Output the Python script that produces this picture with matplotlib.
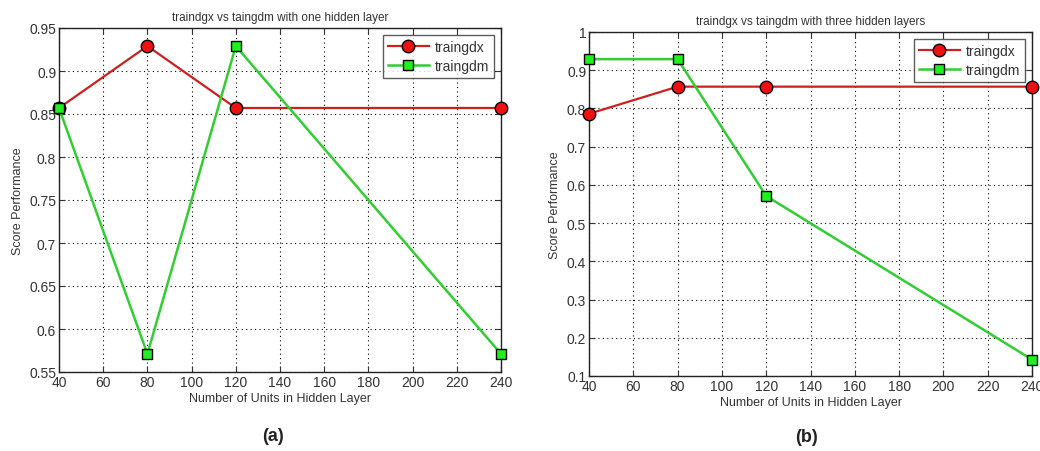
import matplotlib
matplotlib.use("Agg")
import matplotlib.pyplot as plt

# ---------- data ----------
units = [40, 80, 120, 240]

# (a) one hidden layer
one_traingdx = [0.857, 0.929, 0.857, 0.857]
one_traingdm = [0.857, 0.571, 0.929, 0.571]

# (b) three hidden layers
three_traingdx = [0.786, 0.857, 0.857, 0.857]
three_traingdm = [0.929, 0.929, 0.571, 0.143]

x_ticks = list(range(40, 241, 20))
a_yticks = [0.55, 0.6, 0.65, 0.7, 0.75, 0.8, 0.85, 0.9, 0.95]
a_ylabels = ["0.55", "0.6", "0.65", "0.7", "0.75", "0.8", "0.85", "0.9", "0.95"]
b_yticks = [0.1, 0.2, 0.3, 0.4, 0.5, 0.6, 0.7, 0.8, 0.9, 1.0]
b_ylabels = ["0.1", "0.2", "0.3", "0.4", "0.5", "0.6", "0.7", "0.8", "0.9", "1"]

plt.rcParams["font.family"] = ["Liberation Sans", "DejaVu Sans"]
TXT = "#333333"

RED_LINE, RED_FACE = "#cc2020", "#ee1111"
GRN_LINE, GRN_FACE = "#33cc33", "#22ee22"


def panel(ax, gdx, gdm, yticks, ylabels, ylim, title):
    ax.plot(units, gdx, "-o", color=RED_LINE, lw=1.6, ms=9,
            mfc=RED_FACE, mec="black", mew=1.0, label="traingdx", clip_on=False, zorder=4)
    ax.plot(units, gdm, "-s", color=GRN_LINE, lw=1.8, ms=7.5,
            mfc=GRN_FACE, mec="black", mew=1.0, label="traingdm", clip_on=False, zorder=4)
    ax.set_xlim(40, 240)
    ax.set_ylim(*ylim)
    ax.set_xticks(x_ticks)
    ax.set_yticks(yticks)
    ax.set_yticklabels(ylabels)
    ax.grid(True, color="black", linestyle=(0, (1, 3)), linewidth=0.8)
    ax.tick_params(direction="in", top=True, right=True, labelsize=10,
                   colors=TXT, labelcolor=TXT, length=4, pad=2)
    for s in ax.spines.values():
        s.set_color("#222222")
        s.set_linewidth(1.0)
    ax.set_title(title, fontsize=8.5, color=TXT, pad=6)
    ax.set_xlabel("Number of Units in Hidden Layer", fontsize=9, color=TXT, labelpad=2)
    ax.set_ylabel("Score Performance", fontsize=9, color=TXT, labelpad=4)
    leg = ax.legend(loc="upper right", fontsize=10, frameon=True, fancybox=False,
                    borderpad=0.35, handlelength=3.0, labelspacing=0.35,
                    handletextpad=0.4, borderaxespad=0.5)
    leg.get_frame().set_edgecolor("#333333")
    leg.get_frame().set_linewidth(1.0)
    for t in leg.get_texts():
        t.set_color(TXT)


fig = plt.figure(figsize=(10.4, 4.52), dpi=100)
W, H = 1040, 452
ax_a = fig.add_axes([59 / W, 1 - 373 / H, (501 - 59) / W, (373 - 29) / H])
ax_b = fig.add_axes([589 / W, 1 - 377 / H, (1032 - 589) / W, (377 - 33) / H])

panel(ax_a, one_traingdx, one_traingdm, a_yticks, a_ylabels, (0.55, 0.95),
      "traindgx vs taingdm with one hidden layer")
panel(ax_b, three_traingdx, three_traingdm, b_yticks, b_ylabels, (0.1, 1.0),
      "traindgx vs taingdm with three hidden layers")

fig.text(273 / W, 1 - 437 / H, "(a)", fontsize=13, fontweight="bold",
         ha="center", va="center", color="#222222")
fig.text(807 / W, 1 - 438 / H, "(b)", fontsize=13, fontweight="bold",
         ha="center", va="center", color="#222222")

fig.savefig("out.png", dpi=100)
